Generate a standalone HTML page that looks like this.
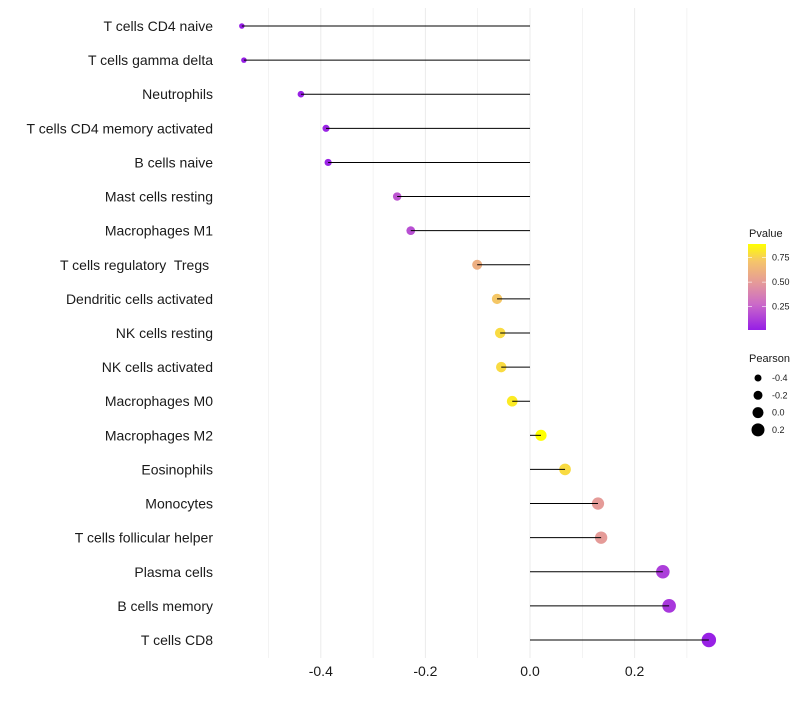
<!DOCTYPE html>
<html><head><meta charset="utf-8"><style>
body{margin:0;background:#fff;font-family:"Liberation Sans",sans-serif}
svg text{font-family:"Liberation Sans",sans-serif;white-space:pre}
</style></head><body>
<svg id="chart" width="800" height="700"></svg>
<script>
const categories=["T cells CD4 naive","T cells gamma delta","Neutrophils","T cells CD4 memory activated","B cells naive","Mast cells resting","Macrophages M1","T cells regulatory  Tregs ","Dendritic cells activated","NK cells resting","NK cells activated","Macrophages M0","Macrophages M2","Eosinophils","Monocytes","T cells follicular helper","Plasma cells","B cells memory","T cells CD8"];
const pearson=[-0.551,-0.547,-0.438,-0.390,-0.386,-0.254,-0.228,-0.101,-0.063,-0.057,-0.055,-0.034,0.021,0.067,0.130,0.136,0.254,0.266,0.342];
const pvalue=[0.005,0.005,0.02,0.03,0.03,0.2,0.18,0.6,0.72,0.78,0.78,0.83,0.9,0.78,0.5,0.5,0.12,0.1,0.02];
const xTicks=[-0.4,-0.2,0.0,0.2];
const xTickLabels=["-0.4","-0.2","0.0","0.2"];
const sizeLegend=[-0.4,-0.2,0.0,0.2];
const pTicks=[0.25,0.5,0.75];

const NS="http://www.w3.org/2000/svg";
const svg=document.getElementById('chart');
function mk(t,a,p){const e=document.createElementNS(NS,t);for(const k in a)e.setAttribute(k,a[k]);(p||svg).appendChild(e);return e;}
const x=v=>530+v*523;
const y=i=>26+i*34.11;
const r=v=>5.5+5*v;
const stops=[[0,[150,30,230]],[0.3,[203,106,200]],[0.55,[229,154,153]],[0.8,[245,197,106]],[1,[255,255,0]]];
function col(p){let t=(p-0.01)/0.88;t=Math.max(0,Math.min(1,t));for(let i=1;i<stops.length;i++){if(t<=stops[i][0]){const a=stops[i-1],b=stops[i];const f=(t-a[0])/(b[0]-a[0]);return 'rgb('+a[1].map((c,j)=>Math.round(c+(b[1][j]-c)*f)).join(',')+')';}}return 'rgb(255,255,0)';}

[-0.5,-0.4,-0.3,-0.2,-0.1,0,0.1,0.2,0.3].forEach(v=>{
 const g=mk('line',{x1:x(v),x2:x(v),y1:8,y2:658,stroke:'#ebebeb','stroke-width':xTicks.includes(v)?1:0.6});
 
 
});
xTicks.forEach((v,i)=>{
 const t=mk('text',{x:x(v),y:676,'text-anchor':'middle','font-size':14,fill:'#1a1a1a'});t.textContent=xTickLabels[i];
 
 
});
categories.forEach((c,i)=>{
 const t=mk('text',{x:213,y:y(i)+5,'text-anchor':'end','font-size':14,fill:'#1a1a1a'});t.textContent=c;
 
 
});
categories.forEach((c,i)=>{
 const d=mk('circle',{cx:x(pearson[i]),cy:y(i),r:r(pearson[i]),fill:col(pvalue[i])});
 
 
});
categories.forEach((c,i)=>{
 const l=mk('line',{x1:x(0),x2:x(pearson[i]),y1:y(i),y2:y(i),stroke:'#000','stroke-width':1});
 
 
});
const defs=mk('defs',{});
const lg=mk('linearGradient',{id:'pg',x1:0,y1:1,x2:0,y2:0},defs);
stops.forEach(s=>mk('stop',{offset:s[0],'stop-color':'rgb('+s[1].join(',')+')'},lg));
const tt=mk('text',{x:749,y:237,'font-size':11,fill:'#1a1a1a'});tt.textContent='Pvalue';


const bar=mk('rect',{x:748,y:244,width:18,height:86,fill:'url(#pg)'});


const py=p=>330-(p-0.01)/0.88*86;
pTicks.forEach(p=>{
 mk('line',{x1:748,x2:752,y1:py(p),y2:py(p),stroke:'#fff','stroke-width':0.6});
 mk('line',{x1:762,x2:766,y1:py(p),y2:py(p),stroke:'#fff','stroke-width':0.6});
 const t=mk('text',{x:772,y:py(p)+3,'font-size':9,fill:'#1a1a1a'});t.textContent=p.toFixed(2);
 
 
});
const st=mk('text',{x:749,y:362,'font-size':11,fill:'#1a1a1a'});st.textContent='Pearson';


sizeLegend.forEach((v,i)=>{
 const cy=378+i*17.3;
 const c=mk('circle',{cx:758,cy:cy,r:r(v),fill:'#000'});
 
 
 const t=mk('text',{x:772,y:cy+3,'font-size':9,fill:'#1a1a1a'});t.textContent=v.toFixed(1);
 
 
});
</script>
</body></html>
